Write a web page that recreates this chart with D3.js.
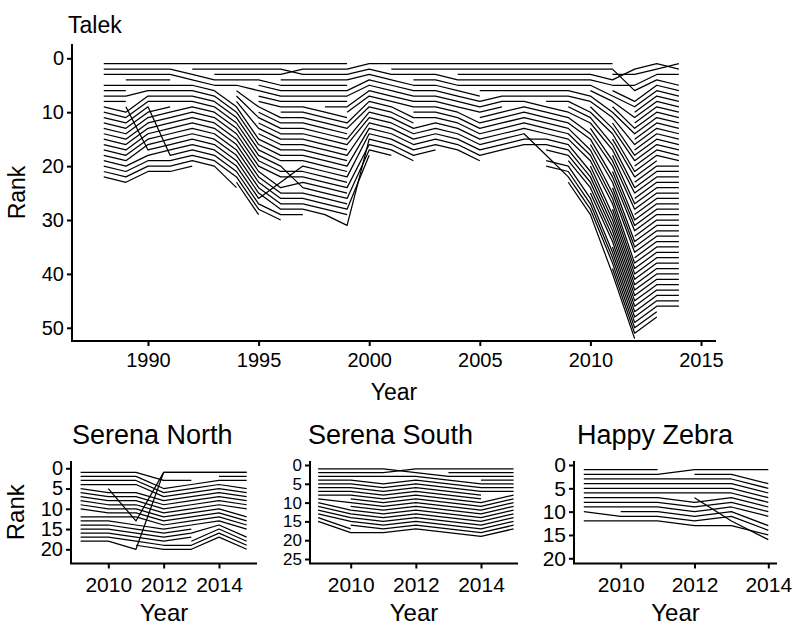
<!DOCTYPE html>
<html><head><meta charset="utf-8">
<script src="https://cdn.jsdelivr.net/npm/d3@7"></script>
<style>
body{margin:0;background:#fff}
svg text{font-family:"Liberation Sans",Arial,Helvetica,sans-serif;fill:#000}
</style>
</head><body>
<svg id="chart" width="793" height="631"></svg>
<script>
// ---------------- DATA ----------------
// Each "next" array: for every rank in a year, the rank held the following year (0 = no line)
const talekYears = [1988,1989,1990,1991,1992,1993,1994,1995,1996,1997,1998,1999,2000,2001,2002,2003,2004,2005,2006,2007,2008,2009,2010,2011,2012,2013,2014];
const talekNext = [
  [1,2,3,0,5,6,7,8,10,11,12,13,14,15,16,17,18,19,20,21,22,23],
  [1,2,3,4,5,0,6,0,17,7,8,9,10,11,12,13,14,15,16,18,19,20,21],
  [1,2,3,4,5,6,7,8,18,9,10,11,12,13,14,15,16,17,19,20,21],
  [1,3,4,0,5,6,7,8,0,9,10,11,12,13,14,15,16,17,18,19,20],
  [1,2,4,5,6,7,8,9,10,11,12,13,14,15,16,17,18,19,20,0],
  [1,2,3,4,5,9,10,11,12,13,14,15,16,17,18,19,20,21,22,24],
  [1,2,3,4,6,9,11,13,15,16,17,18,19,20,21,22,23,24,25,26,27,28,29,0],
  [1,2,3,5,6,7,8,9,11,12,13,14,15,16,17,18,19,20,21,22,24,25,26,27,28,23,29,30,0],
  [1,3,2,4,5,6,7,8,9,10,11,12,13,14,15,16,17,18,19,24,21,22,20,23,25,26,27,28,29,0],
  [1,2,3,4,5,6,7,8,10,11,12,13,14,15,16,17,18,19,20,21,22,23,24,25,26,27,28,29,0],
  [1,2,3,4,5,6,7,8,9,11,12,13,14,15,16,17,18,19,20,21,22,23,24,25,26,27,28,29,31],
  [0,1,2,3,0,4,5,0,6,7,0,8,9,0,10,11,0,12,0,13,0,14,0,16,0,17,0,18,0,0,15],
  [1,3,4,5,6,7,8,9,10,11,12,13,14,15,16,17,18,0],
  [1,2,3,5,6,7,8,9,11,12,13,14,15,16,17,18,19,0],
  [1,2,3,4,5,6,7,8,9,10,11,0,12,13,14,15,16,17,0],
  [1,2,4,5,6,7,8,9,10,11,12,13,14,15,16,17,0],
  [1,2,3,4,5,7,8,9,10,12,13,14,15,16,17,18,19],
  [1,2,3,4,5,6,0,7,8,9,10,11,12,13,14,15,16,17,0],
  [1,2,3,4,5,6,7,8,0,9,10,11,12,13,14,15,16],
  [1,2,3,4,5,6,7,9,10,11,12,13,14,18,15,16],
  [1,2,3,4,5,6,7,8,10,11,12,13,14,15,16,17,18,22,20,21],
  [1,2,3,4,5,7,8,10,11,12,14,15,17,18,19,21,22,23,24,26,27,28,29],
  [1,2,4,5,7,8,10,11,13,14,16,17,19,20,22,23,25,26,27,29,30,31,32,33,34,36,37,38,40],
  [0,6,3,2,5,8,9,11,13,14,16,18,19,21,22,24,25,27,28,30,31,32,34,35,36,38,39,40,41,42,43,44,45,46,47,48,49,50,51,52],
  [0,1,2,0,3,4,0,5,6,7,8,9,10,11,12,13,14,15,16,17,18,19,20,21,22,23,24,25,26,27,28,29,30,31,32,33,34,35,36,37,38,39,40,41,42,43,44,45,46,47,48,0],
  [2,1,3,5,6,7,8,9,10,11,12,13,14,15,16,17,18,19,0,20,21,22,23,24,25,26,27,28,29,30,31,32,33,34,35,36,37,38,39,40,41,42,43,44,45,46,0,0]
];
const talekXTicks = [1990,1995,2000,2005,2010,2015];
const talekYTicks = [0,10,20,30,40,50];

const serenaNorthYears = [2009,2010,2011,2012,2013,2014,2015];
const serenaNorthNext = [
  [1,2,3,4,6,7,8,9,10,11,0,12,13,14,15,16,17,18],
  [1,2,3,4,13,6,7,8,9,10,11,12,14,15,16,17,18,20],
  [3,5,6,7,0,8,9,10,11,12,13,14,1,15,16,17,18,19,20,1],
  [1,0,3,0,4,5,6,7,8,9,10,11,12,13,14,15,16,17,19,20],
  [1,0,0,3,4,5,6,7,8,9,10,11,12,13,0,14,0,15,16,17],
  [1,2,3,5,6,7,8,9,10,12,13,14,15,17,18,19,20]
];
const serenaNorthYTicks = [0,5,10,15,20];

const serenaSouthYears = [2009,2010,2011,2012,2013,2014,2015];
const serenaSouthNext = [
  [1,2,3,4,5,6,7,8,10,12,13,14,15,17,18],
  [1,2,3,5,6,7,8,9,10,11,12,13,14,15,16,17,0,18],
  [2,1,3,0,4,5,6,7,8,9,10,11,12,13,14,15,16,17],
  [1,3,4,5,6,7,8,9,10,11,12,13,14,15,16,17,18],
  [1,2,3,5,6,7,8,9,10,11,12,13,14,15,16,17,18,19],
  [1,2,3,4,5,6,7,0,0,8,9,10,11,12,13,14,15,16,17]
];
const serenaSouthYTicks = [0,5,10,15,20,25];

const happyZebraYears = [2009,2010,2011,2012,2013,2014];
const happyZebraNext = [
  [1,2,3,4,5,6,7,8,9,11,0,12],
  [1,2,3,4,5,6,7,8,9,10,11,12],
  [0,1,3,4,5,6,8,9,10,11,12,13],
  [1,2,3,4,5,6,12,7,8,9,10,11,13],
  [1,4,5,6,7,8,9,10,11,13,14,16,15]
];
const happyZebraYTicks = [0,5,10,15,20];
const smallXTicks = [2010,2012,2014];

// ---------------- DRAWING ----------------
const svg = d3.select("#chart");

function buildChains(years, next){
  const incoming = years.map(()=>new Set());
  next.forEach((arr,i)=>arr.forEach(t=>{ if(t>0) incoming[i+1].add(t); }));
  const paths=[];
  next.forEach((arr,i)=>arr.forEach((t,k)=>{
    const r=k+1;
    if(t>0 && !incoming[i].has(r)){
      const pts=[[years[i],r]]; let j=i, cur=r;
      while(j<next.length && next[j][cur-1]>0){ cur=next[j][cur-1]; j++; pts.push([years[j],cur]); }
      paths.push(pts);
    }
  }));
  return paths;
}

function panel(o){
  const g = svg.append("g");
  const x = d3.scaleLinear().domain(o.xDom).range(o.xRange);
  const y = d3.scaleLinear().domain(o.yDom).range(o.yRange);
  const line = d3.line().x(d=>x(d[0])).y(d=>y(d[1]));
  g.append("g").selectAll("path").data(buildChains(o.years,o.next)).join("path")
    .attr("d",line).attr("fill","none").attr("stroke","#000")
    .attr("stroke-width",o.lw).attr("stroke-linejoin","round");

  const ya = g.append("g").attr("transform",`translate(${o.axX},0)`)
    .call(d3.axisLeft(y).tickValues(o.yTicks).tickSize(o.tick).tickPadding(3).tickFormat(d3.format("d")));
  const xa = g.append("g").attr("transform",`translate(0,${o.axY})`)
    .call(d3.axisBottom(x).tickValues(o.xTicks).tickSize(o.tick).tickPadding(o.xPad).tickFormat(d3.format("d")));
  [ya,xa].forEach(a=>{
    a.select(".domain").remove();
    a.selectAll(".tick line").attr("stroke","#000").attr("stroke-width",o.aw);
    a.selectAll(".tick text").attr("font-family",null).attr("fill","#000");
  });
  ya.selectAll(".tick text").attr("font-size",o.yTickFont);
  xa.selectAll(".tick text").attr("font-size",o.tickFont);
  g.append("line").attr("x1",o.axX).attr("x2",o.axX).attr("y1",o.axTop).attr("y2",o.axY)
    .attr("stroke","#000").attr("stroke-width",o.aw);
  g.append("line").attr("x1",o.axX-o.aw/2).attr("x2",o.axRight).attr("y1",o.axY).attr("y2",o.axY)
    .attr("stroke","#000").attr("stroke-width",o.aw);

  g.append("text").attr("x",o.titleX).attr("y",o.titleY).attr("font-size",o.titleFont).text(o.title);
  g.append("text").attr("x",(o.axX+o.axRight)/2).attr("y",o.yearY).attr("text-anchor","middle")
    .attr("font-size",o.labFont).text("Year");
  if(o.rank){
    g.append("text").attr("transform",`translate(${o.rankX},${(o.axTop+o.axY)/2}) rotate(-90)`)
      .attr("text-anchor","middle").attr("font-size",o.labFont).text("Rank");
  }
}

panel({years:talekYears,next:talekNext,xDom:[1990,2015],xRange:[148,701],yDom:[0,50],yRange:[58.3,327.8],
  axX:72,axY:341,axTop:44,axRight:716,xTicks:talekXTicks,yTicks:talekYTicks,tick:5,aw:2,lw:1.25,xPad:7,
  tickFont:20,yTickFont:20,title:"Talek",titleX:68,titleY:33,titleFont:23,yearY:400,labFont:23,rank:true,rankX:25});

panel({years:serenaNorthYears,next:serenaNorthNext,xDom:[2010,2014],xRange:[108.3,219],yDom:[0,20],yRange:[468.3,549.3],
  axX:71,axY:563.5,axTop:461,axRight:257,xTicks:smallXTicks,yTicks:serenaNorthYTicks,tick:5,aw:2,lw:1.25,xPad:9,
  tickFont:21,yTickFont:20,title:"Serena North",titleX:72,titleY:444,titleFont:27,yearY:621,labFont:24,rank:true,rankX:24});

panel({years:serenaSouthYears,next:serenaSouthNext,xDom:[2010,2014],xRange:[350.7,481],yDom:[0,25],yRange:[465,559],
  axX:310,axY:563.5,axTop:461,axRight:518,xTicks:smallXTicks,yTicks:serenaSouthYTicks,tick:5,aw:2,lw:1.25,xPad:9,
  tickFont:21,yTickFont:17,title:"Serena South",titleX:308,titleY:444,titleFont:27,yearY:621,labFont:24,rank:false});

panel({years:happyZebraYears,next:happyZebraNext,xDom:[2010,2014],xRange:[620.7,768.3],yDom:[0,20],yRange:[465,558.3],
  axX:574,axY:563.5,axTop:461,axRight:777,xTicks:smallXTicks,yTicks:happyZebraYTicks,tick:5,aw:2,lw:1.25,xPad:9,
  tickFont:21,yTickFont:21,title:"Happy Zebra",titleX:577,titleY:444,titleFont:27,yearY:621,labFont:24,rank:false});
</script>
</body></html>
